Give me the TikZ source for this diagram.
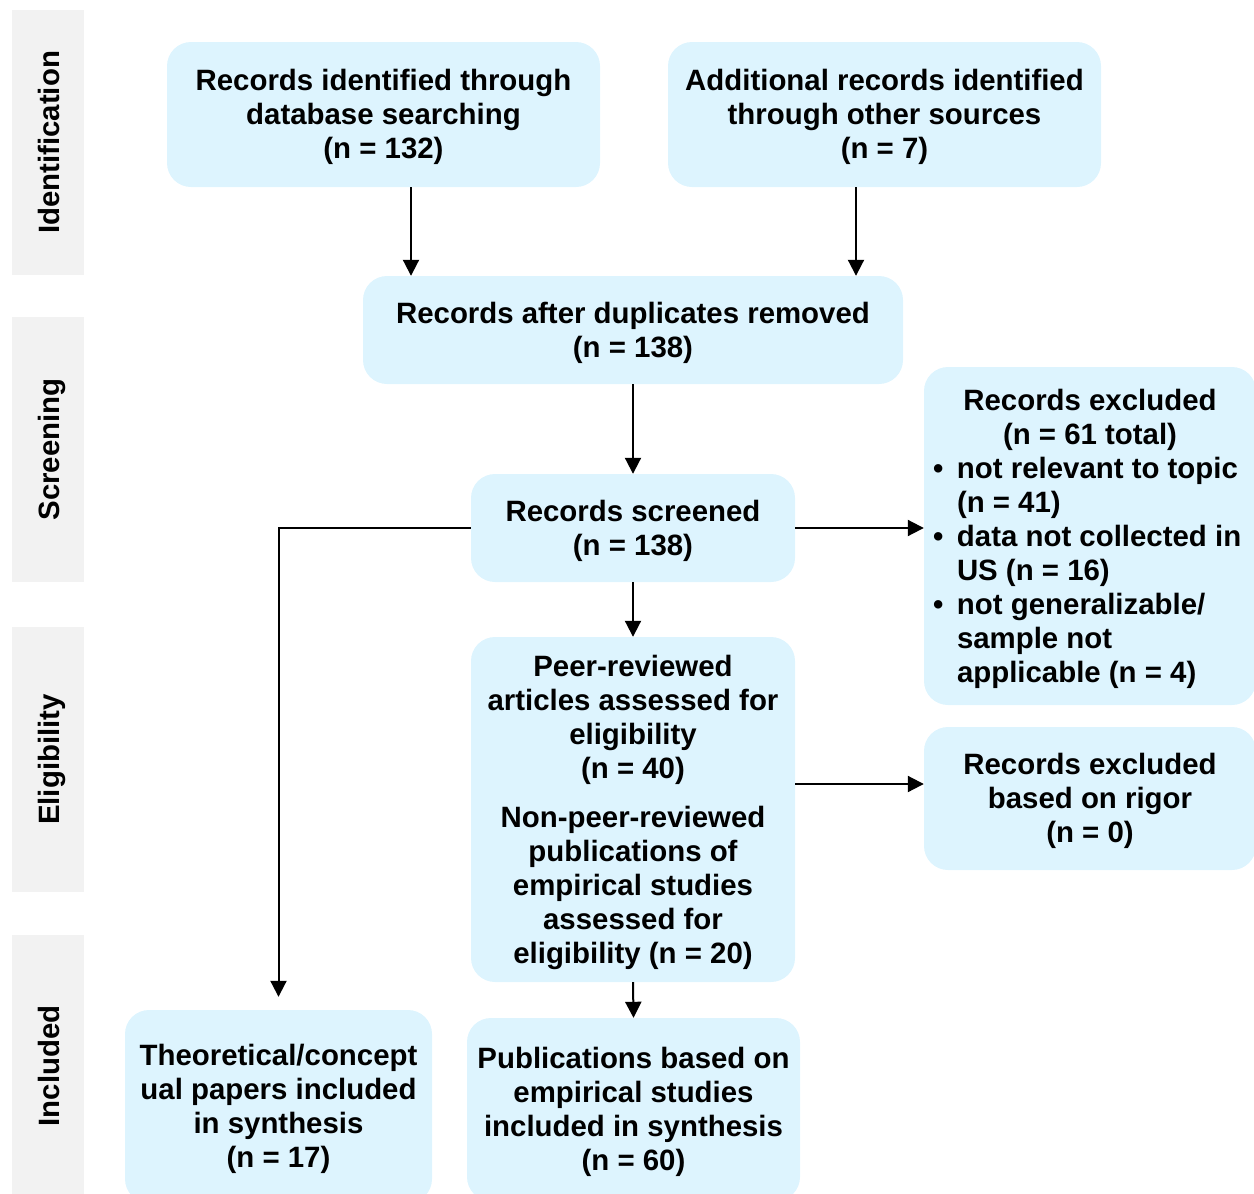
\documentclass[tikz,border=0pt]{standalone}
\usepackage{fontspec}
\setmainfont{Liberation Sans}
\usetikzlibrary{arrows.meta}
\definecolor{boxfill}{HTML}{DDF4FE}
\definecolor{sidefill}{HTML}{F2F2F2}
\newcommand\boxtxt[1]{\raisebox{-3.5pt}[\height][\depth]{\begin{tabular}{@{}c@{}}#1\end{tabular}}}
\newcommand\bul{\hangindent=24pt\hangafter=1 \makebox[24pt][l]{\textbullet}}
\begin{document}
\begin{tikzpicture}[x=1pt,y=-1pt,
  box/.style={fill=boxfill, rounded corners=24pt, inner sep=0pt, align=center,
    font=\bfseries\fontsize{29.4}{34}\selectfont},
  sidebox/.style={fill=sidefill, inner sep=0pt},
  sidetext/.style={rotate=90, anchor=base, inner sep=0pt,
    font=\bfseries\fontsize{29.4}{34}\selectfont},
  arr/.style={line width=2pt, -{Triangle[width=16pt,length=16pt]}},
]
\useasboundingbox (0,0) rectangle (1254,1194);

% phase labels
\node[sidebox, minimum width=72pt, minimum height=265pt] (s1) at (48,142.5) {};
\node[sidetext] (t1) at (59,142.5) {Identification};
\node[sidebox, minimum width=72pt, minimum height=265pt] (s2) at (48,449.5) {};
\node[sidetext] (t2) at (59,449.5) {Screening};
\node[sidebox, minimum width=72pt, minimum height=265pt] (s3) at (48,759.5) {};
\node[sidetext] (t3) at (59,759.5) {Eligibility};
\node[sidebox, minimum width=72pt, minimum height=262pt] (s4) at (48,1066) {};
\node[sidetext] (t4) at (59,1066) {Included};

% boxes
\node[box, minimum width=433pt, minimum height=145pt] (b1) at (383.5,114.5)
  {\boxtxt{Records identified through\\database searching\\(n = 132)}};
\node[box, minimum width=433pt, minimum height=145pt] (b2) at (884.5,114.5)
  {\boxtxt{Additional records identified\\through other sources\\(n = 7)}};
\node[box, minimum width=540pt, minimum height=108pt] (b3) at (633,330)
  {\boxtxt{Records after duplicates removed\\(n = 138)}};
\node[box, minimum width=324pt, minimum height=108pt] (b4) at (633,528)
  {\boxtxt{Records screened\\(n = 138)}};
\node[box, minimum width=332pt, minimum height=338pt] (b5) at (1090,536)
  {\raisebox{-2.5pt}[\height][\depth]{\parbox{314pt}{\centering Records excluded\\(n = 61 total)\par
   \raggedright
   \bul not relevant to topic\newline(n = 41)\par
   \bul data not collected in\newline US (n = 16)\par
   \bul not generalizable/\newline sample not\newline applicable (n = 4)\par}}};
\node[box, minimum width=324pt, minimum height=345pt] (b6) at (633,809.5)
  {\boxtxt{Peer-reviewed\\articles assessed for\\eligibility\\(n = 40)\\[15pt]Non-peer-reviewed\\publications of\\empirical studies\\assessed for\\eligibility (n = 20)}};
\node[box, minimum width=332pt, minimum height=143pt] (b7) at (1090,798.5)
  {\boxtxt{Records excluded\\based on rigor\\(n = 0)}};
\node[box, minimum width=307pt, minimum height=193pt] (b8) at (278.5,1106.5)
  {\boxtxt{Theoretical/concept\\ual papers included\\in synthesis\\(n = 17)}};
\node[box, minimum width=333pt, minimum height=183pt] (b9) at (633.5,1109.5)
  {\boxtxt{Publications based on\\empirical studies\\included in synthesis\\(n = 60)}};

% connectors
\draw[arr] ([xshift=27.5pt]b1.south) -- ([xshift=27.5pt]b1.south |- b3.north);
\draw[arr] ([xshift=-28.5pt]b2.south) -- ([xshift=-28.5pt]b2.south |- b3.north);
\draw[arr] (b3.south) -- (b4.north);
\draw[arr] (b4.east) -- (b4.east -| b5.west);
\draw[arr] (b4.south) -- (b6.north);
\draw[arr, shorten >=13pt] (b4.west) -| (b8.north);
\draw[arr] ([yshift=14.5pt]b7.west -| b6.east) -- ([yshift=14.5pt]b7.west);
\draw[arr] (b6.south) -- (b9.north);
\end{tikzpicture}
\end{document}
